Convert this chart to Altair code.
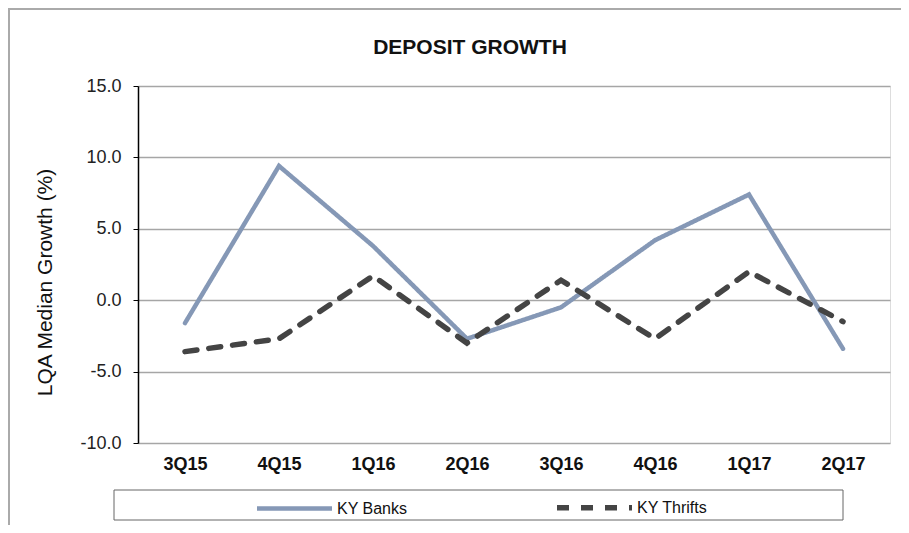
import altair as alt
import pandas as pd

quarters = ["3Q15", "4Q15", "1Q16", "2Q16", "3Q16", "4Q16", "1Q17", "2Q17"]
ky_banks = [-1.6, 9.4, 3.8, -2.7, -0.5, 4.2, 7.4, -3.4]
ky_thrifts = [-3.6, -2.7, 1.7, -3.0, 1.4, -2.7, 2.0, -1.5]
series_names = ["KY Banks", "KY Thrifts"]
y_ticks = [-10, -5, 0, 5, 10, 15]

rows = []
for i, q in enumerate(quarters):
    rows.append({"quarter": q, "series": series_names[0], "value": ky_banks[i]})
    rows.append({"quarter": q, "series": series_names[1], "value": ky_thrifts[i]})
df = pd.DataFrame(rows)

FONT = "Liberation Sans"

legend_cfg = dict(title=None, orient="none", legendX=116, legendY=381,
                  direction="horizontal", columns=2,
                  symbolType="stroke", symbolSize=5625,
                  symbolStrokeWidth=5, labelFont=FONT,
                  labelFontSize=16, labelColor="#111",
                  labelOffset=2, columnPadding=138)

lines = alt.Chart(df).mark_line(strokeCap="round").encode(
    x=alt.X("quarter:N", sort=quarters,
            scale=alt.Scale(paddingInner=0, paddingOuter=0),
            axis=alt.Axis(title=None, labelAngle=0, ticks=False, domain=False,
                          labelFont=FONT, labelFontSize=18, labelFontWeight="bold",
                          labelColor="#111", labelPadding=12, grid=False)),
    y=alt.Y("value:Q", scale=alt.Scale(domain=[-10, 15], nice=False),
            axis=alt.Axis(title="LQA Median Growth (%)", values=y_ticks,
                          labelExpr="datum.value < 0 ? '-' + format(-datum.value, '.1f') : format(datum.value, '.1f')",
                          labelFont=FONT, labelFontSize=18, labelColor="#222",
                          labelPadding=12, tickSize=5, tickColor="#000",
                          domainColor="#000", domainWidth=1.5,
                          grid=True, gridColor="#a6a6a6", gridWidth=1.5,
                          titleFont=FONT, titleFontSize=21, titleFontWeight="normal",
                          titleColor="#111", titleAngle=-90, titleX=-93, titleY=196,
                          titleAlign="center", titleBaseline="middle")),
    color=alt.Color("series:N", sort=series_names,
                    scale=alt.Scale(domain=series_names, range=["#8598b6", "#444444"]),
                    legend=alt.Legend(**legend_cfg)),
    strokeDash=alt.StrokeDash("series:N", sort=series_names,
                              scale=alt.Scale(domain=series_names, range=[[1, 0], [12, 12]]),
                              legend=alt.Legend(**legend_cfg)),
    strokeWidth=alt.StrokeWidth("series:N", sort=series_names,
                                scale=alt.Scale(domain=series_names, range=[4.5, 5.5]),
                                legend=None),
)

box_data = alt.Data(values=[{"k": 1}])

legend_box = alt.Chart(box_data).mark_rect(fill=None, stroke="#666666", strokeWidth=1).encode(
    x=alt.value(-24), x2=alt.value(705), y=alt.value(404), y2=alt.value(434)
)

outer_frame = alt.Chart(box_data).mark_rect(fill=None, stroke="#aaaaaa", strokeWidth=2).encode(
    x=alt.value(-129), x2=alt.value(900), y=alt.value(-77), y2=alt.value(600)
)

chart = alt.layer(outer_frame, lines, legend_box).properties(
    width=752, height=357,
    title=alt.TitleParams("DEPOSIT GROWTH", font=FONT, fontSize=21, fontWeight="bold",
                          color="#111", anchor="middle", frame="group", dx=-44,
                          offset=0, baseline="alphabetic", dy=67),
    autosize=alt.AutoSizeParams(type="none"),
    padding={"left": 130, "top": 78, "right": 11, "bottom": 82},
).configure_view(stroke="#8c8c8c", strokeWidth=2).configure(background="white")

chart.save("out.html", embed_options={"renderer": "svg", "actions": False})
